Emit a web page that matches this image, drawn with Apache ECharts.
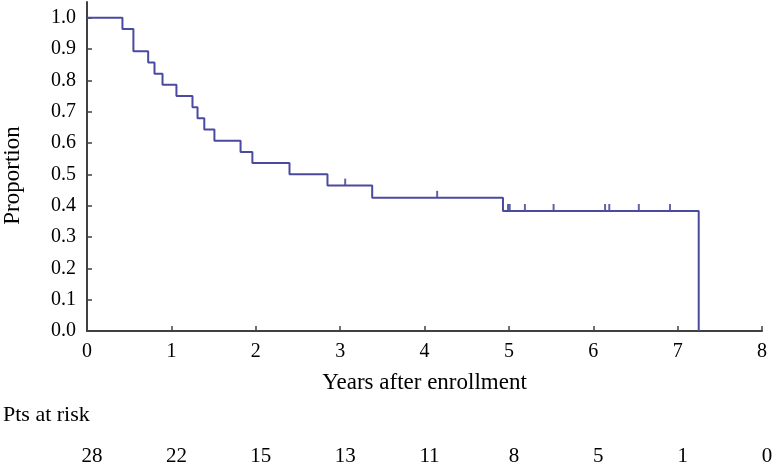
<!DOCTYPE html>
<html>
<head>
<meta charset="utf-8">
<script src="https://cdn.jsdelivr.net/npm/echarts@6/dist/echarts.min.js"></script>
<style>
  html, body { margin: 0; padding: 0; background: #fff; }
  #chart { width: 772px; height: 466px; }
</style>
</head>
<body>
<div id="chart"></div>
<script>
// Kaplan-Meier step points: [time, survival after event]
const stepTimes  = [0, 0.42, 0.55, 0.725, 0.80, 0.895, 1.06, 1.25, 1.31, 1.39, 1.51, 1.82, 1.96, 2.40, 2.85, 3.38, 4.93, 7.25];
const stepValues = [1.0, 0.964, 0.893, 0.857, 0.821, 0.786, 0.750, 0.714, 0.679, 0.643, 0.607, 0.571, 0.536, 0.500, 0.464, 0.425, 0.383, 0.0];
// Censored observations
const censorTimes  = [3.06, 4.15, 4.99, 5.01, 5.19, 5.53, 6.14, 6.19, 6.54, 6.91];
const censorValues = [0.464, 0.425, 0.383, 0.383, 0.383, 0.383, 0.383, 0.383, 0.383, 0.383];
// Axis ticks
const xTicks = [0, 1, 2, 3, 4, 5, 6, 7, 8];
const yTicks = [0.0, 0.1, 0.2, 0.3, 0.4, 0.5, 0.6, 0.7, 0.8, 0.9, 1.0];
// Patients at risk at each year
const riskCounts = [28, 22, 15, 13, 11, 8, 5, 1, 0];

const FONT = 'Liberation Serif';
const LINE = '#4a4a9e';
const AXIS = '#404040';

const chart = echarts.init(document.getElementById('chart'));
chart.setOption({
  animation: false,
  backgroundColor: '#fff',
  grid: { left: 87, right: 10, top: 2, bottom: 135, containLabel: false, outerBoundsMode: 'none' },
  xAxis: [{
    type: 'value', min: 0, max: 8, interval: 1,
    name: 'Years after enrollment', nameLocation: 'middle', nameGap: 40,
    nameTextStyle: { fontFamily: FONT, fontSize: 23, color: '#000' },
    axisLine: { lineStyle: { color: AXIS, width: 2 } },
    axisTick: { inside: true, length: 5, lineStyle: { color: AXIS, width: 1.5 } },
    axisLabel: { fontFamily: FONT, fontSize: 20, color: '#000', margin: 11 },
    splitLine: { show: false }
  }, {
    type: 'value', min: 0, max: 8, interval: 1, position: 'bottom', offset: 115,
    axisLine: { show: false }, axisTick: { show: false }, splitLine: { show: false },
    axisLabel: {
      fontFamily: FONT, fontSize: 21, color: '#000', margin: 0, padding: [0, 0, 0, 10],
      formatter: v => String(riskCounts[xTicks.indexOf(v)])
    }
  }],
  yAxis: {
    type: 'value', min: 0, max: 1.05,
    name: 'Proportion', nameLocation: 'middle', nameGap: 63, nameRotate: 90,
    nameTextStyle: { fontFamily: FONT, fontSize: 23, color: '#000', padding: [0, 0, 0, -18] },
    axisLine: { show: true, lineStyle: { color: AXIS, width: 2 } },
    axisTick: { show: true, inside: true, length: 5, customValues: yTicks, lineStyle: { color: AXIS, width: 1.5 } },
    axisLabel: { fontFamily: FONT, fontSize: 20, color: '#000', margin: 11, customValues: yTicks, formatter: v => v.toFixed(1) },
    splitLine: { show: false }
  },
  graphic: [{
    type: 'text', left: 3, top: 404,
    style: { text: 'Pts at risk', font: '22px "Liberation Serif"', fill: '#000' }
  }],
  series: [{
    type: 'line', step: 'end', symbol: 'none',
    lineStyle: { color: LINE, width: 2 },
    data: stepTimes.map((t, i) => [t, stepValues[i]])
  }, {
    type: 'scatter', symbol: 'rect', symbolSize: [2, 7], symbolOffset: [0, '-50%'],
    itemStyle: { color: '#3c3c8c' },
    data: censorTimes.map((t, i) => [t, censorValues[i]])
  }]
});
</script>
</body>
</html>
